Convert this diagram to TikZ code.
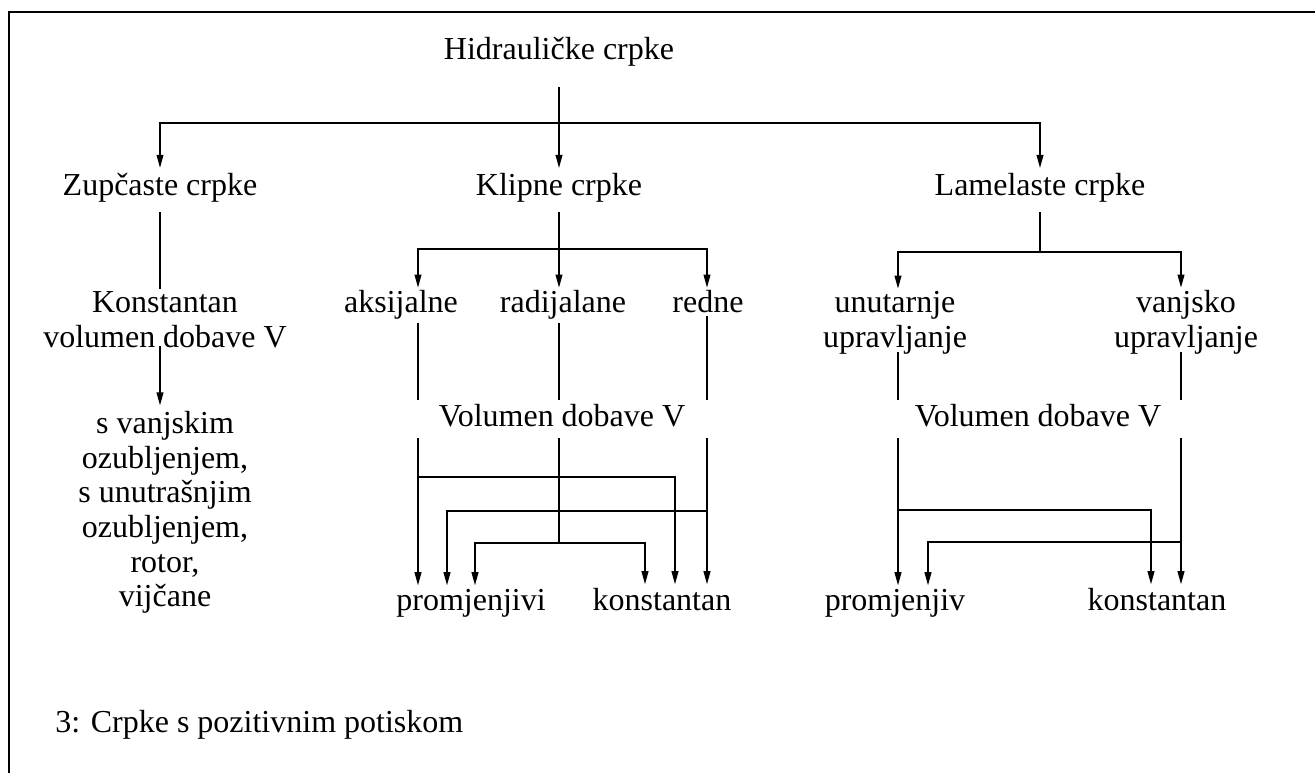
\documentclass[tikz,border=0pt]{standalone}
\usepackage{fontspec}
\setmainfont{Liberation Serif}
\usetikzlibrary{arrows.meta,calc}
\newcommand\diagfs{\fontsize{24}{26}\selectfont}
\begin{document}
\begin{tikzpicture}[x=0.75pt,y=-0.75pt,
  txt/.style={inner sep=0pt, anchor=base, font=\diagfs},
  ln/.style={line width=1.4pt},
  arr/.style={ln, -{Triangle[length=10pt,width=5pt]}},
  frame/.style={line width=1.6pt}]
\useasboundingbox (0,0) rectangle (1315,773);
% frame
\draw[frame] (9,773) -- (9,12) -- (1315,12);
% column coordinates
\coordinate (cZ) at (160,0);
\coordinate (cA) at (418,0);
\coordinate (cB) at (447,0);
\coordinate (cC) at (475,0);
\coordinate (cR) at (559,0);
\coordinate (cE) at (645,0);
\coordinate (cF) at (675,0);
\coordinate (cD) at (707,0);
\coordinate (cU) at (898,0);
\coordinate (cV) at (928,0);
\coordinate (cG) at (1151,0);
\coordinate (cW) at (1181,0);
% text nodes
\node[txt] (H) at (559,60) {Hidrauličke crpke};
\node[txt] (Z) at (160,196) {Zupčaste crpke};
\node[txt] (K) at (559,196) {Klipne crpke};
\node[txt] (L) at (1040,196) {Lamelaste crpke};
\node[txt] (Kz1) at (165,313) {Konstantan};
\node[txt] (Kz2) at (165,348) {volumen dobave V};
\node[txt, anchor=north, align=center] (S) at (165,411) {s vanjskim\\ozubljenjem,\\s unutrašnjim\\ozubljenjem,\\rotor,\\vijčane};
\node[txt] (ak) at (401,313) {aksijalne};
\node[txt] (ra) at (563,313) {radijalane};
\node[txt] (re) at (708,313) {redne};
\node[txt] (U1) at (895,313) {unutarnje};
\node[txt] (U2) at (895,348) {upravljanje};
\node[txt] (W1) at (1186,313) {vanjsko};
\node[txt] (W2) at (1186,348) {upravljanje};
\node[txt] (VK) at (562,427) {Volumen dobave V};
\node[txt] (VL) at (1038,427) {Volumen dobave V};
\node[txt] (P1) at (471,611) {promjenjivi};
\node[txt] (C1) at (662,611) {konstantan};
\node[txt] (P2) at (895,611) {promjenjiv};
\node[txt] (C2) at (1157,611) {konstantan};
\node[txt, anchor=base west] (cap) at (55,732) {3: Crpke s pozitivnim potiskom};
% junctions
\coordinate (jH) at (559,123);
\coordinate (jK) at (559,249);
\coordinate (jL) at (1040,252);
\coordinate (a1) at (418,477);
\coordinate (d1) at (707,511);
\coordinate (m1) at (559,543);
\coordinate (u1) at (898,510);
\coordinate (w1) at (1181,542);
% top level
\draw[arr, shorten <=15pt, shorten >=4pt] (H.south) -- (K.north);
\draw[arr, shorten >=4pt] (jH) -| (Z.north);
\draw[arr, shorten >=4pt] (jH) -| (L.north);
% Zupcaste
\draw[ln, shorten <=7pt, shorten >=2pt] (Z.south) -- (Z.south |- Kz1.north);
\draw[arr, shorten <=-2pt, shorten >=4pt] (Z.south |- Kz2.south) -- (Z.south |- S.north);
% Klipne
\draw[arr, shorten <=7pt, shorten >=2pt] (K.south) -- (K.south |- ra.north);
\draw[arr, shorten >=2pt] (jK) -| (ak.north -| cA);
\draw[arr, shorten >=2pt] (jK) -| (re.north -| cD);
\draw[ln, shorten <=2pt, shorten >=3.5pt] (ak.south -| cA) -- (VK.north -| cA);
\draw[ln, shorten <=2pt, shorten >=3.5pt] (ra.south -| cR) -- (VK.north -| cR);
\draw[ln, shorten <=2pt, shorten >=3.5pt] (re.south -| cD) -- (VK.north -| cD);
\draw[arr, shorten <=8pt, shorten >=3pt] (VK.south -| cA) -- (P1.north -| cA);
\draw[arr, shorten >=3pt] (a1) -| (C1.north -| cF);
\draw[arr, shorten <=8pt, shorten >=3pt] (VK.south -| cD) -- (C1.north -| cD);
\draw[arr, shorten >=3pt] (d1) -| (P1.north -| cB);
\draw[ln, shorten <=8pt] (VK.south -| cR) -- (m1);
\draw[arr, shorten >=3pt] (m1) -| (P1.north -| cC);
\draw[arr, shorten >=3pt] (m1) -| (C1.north -| cE);
% Lamelaste
\draw[ln, shorten <=7pt] (L.south) -- (jL);
\draw[arr, shorten >=2pt] (jL) -| (U1.north -| cU);
\draw[arr, shorten >=2pt] (jL) -| (W1.north -| cW);
\draw[ln, shorten <=-2pt, shorten >=3.5pt] (U2.south -| cU) -- (VL.north -| cU);
\draw[ln, shorten <=-2pt, shorten >=3.5pt] (W2.south -| cW) -- (VL.north -| cW);
\draw[arr, shorten <=8pt, shorten >=3pt] (VL.south -| cU) -- (P2.north -| cU);
\draw[arr, shorten >=3pt] (u1) -| (C2.north -| cG);
\draw[arr, shorten <=8pt, shorten >=3pt] (VL.south -| cW) -- (C2.north -| cW);
\draw[arr, shorten >=3pt] (w1) -| (P2.north -| cV);
\end{tikzpicture}
\end{document}
